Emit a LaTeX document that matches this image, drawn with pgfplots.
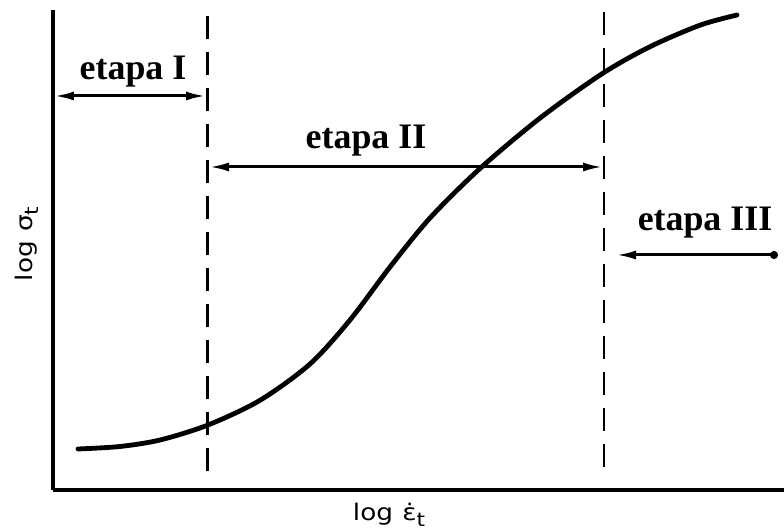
\documentclass[border=0pt]{standalone}
\usepackage{fontspec}
\setmainfont{Liberation Serif}
\newfontfamily\labelfont{DejaVu Sans}
\usepackage{pgfplots}
\pgfplotsset{compat=1.18}
\usetikzlibrary{arrows.meta}

\begin{document}
\begin{tikzpicture}[x=1bp,y=1bp]
\begin{axis}[
  scale only axis,
  width=731bp, height=480bp,
  xmin=53, xmax=784, ymin=41, ymax=521,
  axis x line=bottom, axis y line=left,
  axis line style={line width=3.6bp, -},
  xtick=\empty, ytick=\empty,
  clip=false,
]
  % stage boundaries
  \addplot[black, line width=2.8bp, dash pattern=on 23bp off 13bp]
    coordinates {(207.5,60) (207.5,521)};
  \addplot[black, line width=2.8bp, dash pattern=on 23bp off 13bp]
    coordinates {(604,64) (604,519)};

  % flow stress vs strain rate
  \addplot[black, line width=4.8bp, smooth, line cap=round] coordinates {
    (78,82) (120,84.5) (160,91) (208,106) (260,130.7) (310,167)
    (350,211) (390,264) (430,313) (480,362.5) (540,412.9)
    (602,457.2) (650,484.3) (700,505.8) (737,516)
  };

  % stage ranges
  \addplot[black, line width=3bp, {Latex[length=20bp,width=9bp]}-{Latex[length=20bp,width=9bp]}]
    coordinates {(54,435) (206,435)};
  \addplot[black, line width=3bp, {Latex[length=20bp,width=9bp]}-{Latex[length=20bp,width=9bp]}]
    coordinates {(209,364) (603,364)};
  \addplot[black, line width=3bp, {Latex[length=20bp,width=9bp]}-{Circle[length=8bp]}]
    coordinates {(616,276) (778,276)};

  \node[anchor=base, font=\fontsize{36}{40}\selectfont\bfseries] at (axis cs:133,451) {etapa I};
  \node[anchor=base, font=\fontsize{36}{40}\selectfont\bfseries] at (axis cs:366,382) {etapa II};
  \node[anchor=base, font=\fontsize{36}{40}\selectfont\bfseries] at (axis cs:705,300) {etapa III};

  \node[font=\labelfont\fontsize{23}{26}\selectfont, rotate=90] at (axis cs:27,287)
    {\scalebox{1.15}[1]{log\hspace{8bp}σ\raisebox{-0.5ex}{\fontsize{19}{21}\selectfont t}}};
  \node[font=\labelfont\fontsize{23}{26}\selectfont] at (axis cs:389,16)
    {\scalebox{1.15}[1]{log\hspace{8bp}ε̇\raisebox{-0.5ex}{\fontsize{19}{21}\selectfont t}}};

  \coordinate (bl) at (axis cs:0,0);
  \coordinate (tr) at (axis cs:784,531);
\end{axis}
\pgfresetboundingbox
\path (bl) rectangle (tr);
\end{tikzpicture}
\end{document}
